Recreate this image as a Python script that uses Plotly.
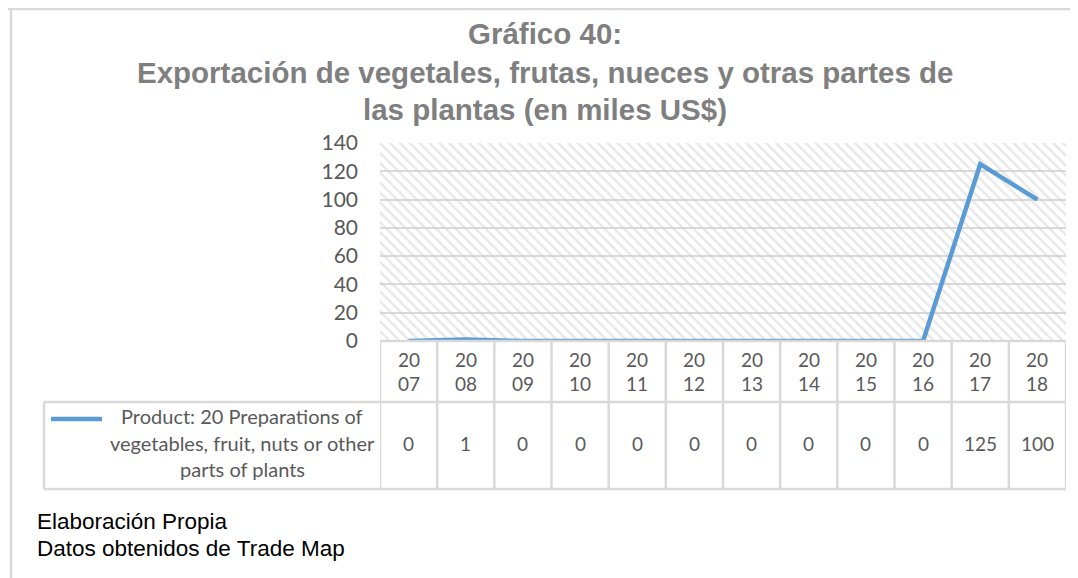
import plotly.graph_objects as go

# ---- data ----
years = [2007, 2008, 2009, 2010, 2011, 2012, 2013, 2014, 2015, 2016, 2017, 2018]
values = [0, 1, 0, 0, 0, 0, 0, 0, 0, 0, 125, 100]
series_name = ["Product: 20 Preparations of", "vegetables, fruit, nuts or other", "parts of plants"]
title_lines = ["Gráfico 40:",
               "Exportación de vegetales, frutas, nueces y otras partes de",
               "las plantas (en miles US$)"]
footer_lines = ["Elaboración Propia", "Datos obtenidos de Trade Map"]
y_max = 140
y_step = 20

# ---- layout constants (page pixels; the page body adds an 8px offset) ----
OFF = 8
W, H = 1078, 578
PL, PR, PT, PB = 380, 1066, 143, 341  # plot area box in page pixels
GRID = "#d9d9d9"
TXT = "#595959"
LINE = "#5b9bd5"
FONT_T = "Lato"


def py(ypix):
    return (PB - ypix) / (PB - PT)


def px(xpix):
    return (xpix - PL) / (PR - PL)


x0 = years[0] - 0.5
x1 = years[-1] + 0.5

fig = go.Figure()

# hatched plot background
fig.add_trace(go.Scatter(
    x=[x0, x1, x1, x0, x0], y=[0, 0, y_max, y_max, 0],
    mode="lines", line=dict(width=0), fill="toself",
    fillcolor="rgba(0,0,0,0)",
    fillpattern=dict(shape="\\", fgcolor="#d0d0d0", size=7, solidity=0.33),
    hoverinfo="skip", showlegend=False))

fig.add_trace(go.Scatter(
    x=years, y=values, mode="lines",
    line=dict(color=LINE, width=4.5),
    name=" ".join(series_name), showlegend=False))

shapes = []
annotations = []

# title
title_y = [33, 72, 109]
for t, yy in zip(title_lines, title_y):
    annotations.append(dict(
        text=t, xref="paper", yref="paper", x=px(545), y=py(yy),
        xanchor="center", yanchor="middle", showarrow=False,
        font=dict(family="Liberation Sans", size=29.5, color="#7f7f7f", weight="bold")))

# table geometry
HDR_TOP, HDR_BOT, TBL_BOT = 341, 402, 489
LEG_LEFT = 44
lw = 2.5
shapes.append(dict(type="line", xref="x", yref="paper", x0=x0, x1=x1,
                   y0=py(HDR_TOP), y1=py(HDR_TOP), line=dict(color=GRID, width=lw)))
shapes.append(dict(type="line", xref="paper", yref="paper", x0=px(LEG_LEFT), x1=1,
                   y0=py(HDR_BOT), y1=py(HDR_BOT), line=dict(color=GRID, width=lw)))
shapes.append(dict(type="line", xref="paper", yref="paper", x0=px(LEG_LEFT), x1=1,
                   y0=py(TBL_BOT), y1=py(TBL_BOT), line=dict(color=GRID, width=lw)))
shapes.append(dict(type="line", xref="paper", yref="paper", x0=px(LEG_LEFT), x1=px(LEG_LEFT),
                   y0=py(HDR_BOT), y1=py(TBL_BOT), line=dict(color=GRID, width=lw)))
for i in range(len(years) + 1):
    xb = years[0] - 0.5 + i
    shapes.append(dict(type="line", xref="x", yref="paper", x0=xb, x1=xb,
                       y0=py(HDR_TOP), y1=py(TBL_BOT), line=dict(color=GRID, width=lw)))

# header labels and values
for yr, v in zip(years, values):
    s = str(yr)
    for part, yy in ((s[:2], 359), (s[2:], 383)):
        annotations.append(dict(text=part, xref="x", yref="paper", x=yr, y=py(yy),
                                xanchor="center", yanchor="middle", showarrow=False,
                                font=dict(family=FONT_T, size=19, color=TXT)))
    annotations.append(dict(text=str(v), xref="x", yref="paper", x=yr, y=py(443),
                            xanchor="center", yanchor="middle", showarrow=False,
                            font=dict(family=FONT_T, size=19, color=TXT)))

# legend key + series name
shapes.append(dict(type="line", xref="paper", yref="paper", x0=px(51), x1=px(102),
                   y0=py(419), y1=py(419), line=dict(color=LINE, width=4.5)))
for t, yy in zip(series_name, [416, 443, 469]):
    annotations.append(dict(text=t, xref="paper", yref="paper", x=px(242), y=py(yy),
                            xanchor="center", yanchor="middle", showarrow=False,
                            font=dict(family=FONT_T, size=20, color=TXT)))

# footer
for t, yy in zip(footer_lines, [521, 548]):
    annotations.append(dict(text=t, xref="paper", yref="paper", x=px(35), y=py(yy),
                            xanchor="left", yanchor="middle", showarrow=False,
                            font=dict(family="Liberation Sans", size=22.5, color="#000000")))

# outer frame
shapes.append(dict(type="line", xref="paper", yref="paper", x0=px(OFF), x1=px(W + OFF),
                   y0=py(OFF + 1), y1=py(OFF + 1), line=dict(color=GRID, width=2.5)))
shapes.append(dict(type="line", xref="paper", yref="paper", x0=px(11), x1=px(11),
                   y0=py(OFF + 1), y1=py(H + OFF), line=dict(color=GRID, width=2.5)))

# convert page-pixel geometry into figure margins (figure starts at page OFF,OFF)
fig.update_layout(
    width=W, height=H,
    margin=dict(l=PL - OFF, r=W - (PR - OFF), t=PT - OFF, b=H - (PB - OFF), pad=0),
    paper_bgcolor="white", plot_bgcolor="white",
    shapes=shapes, annotations=annotations,
    xaxis=dict(range=[x0, x1], showticklabels=False, showgrid=False,
               zeroline=False, showline=False, ticks="", fixedrange=True),
    yaxis=dict(range=[0, y_max], dtick=y_step, tick0=0, showgrid=True,
               gridcolor=GRID, gridwidth=2, zeroline=False, showline=False,
               ticks="", ticklabelstandoff=21,
               tickfont=dict(family=FONT_T, size=21, color=TXT), fixedrange=True),
    showlegend=False,
)

fig.write_html("out.html")
